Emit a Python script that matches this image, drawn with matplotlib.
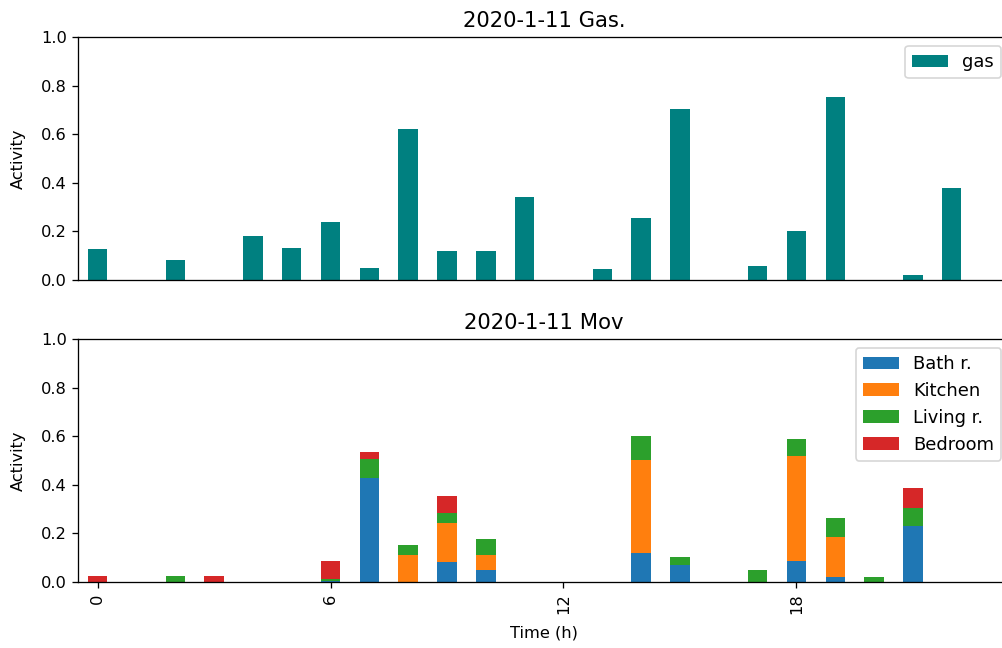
import numpy as np
import matplotlib
matplotlib.use("Agg")
import matplotlib.pyplot as plt

# ── hourly data for 2020-1-11 ──────────────────────────────────────────────
hours = np.arange(24)

gas = [0.128, 0, 0.082, 0, 0.18, 0.132, 0.239, 0.047, 0.622, 0.121, 0.117, 0.34,
       0, 0.045, 0.254, 0.703, 0, 0.058, 0.202, 0.751, 0, 0.019, 0.378, 0]

bath = [0, 0, 0, 0, 0, 0, 0.005, 0.429, 0, 0.081, 0.05, 0,
        0, 0, 0.119, 0.071, 0, 0, 0.088, 0.022, 0, 0.232, 0, 0]
kitchen = [0, 0, 0, 0, 0, 0, 0, 0, 0.112, 0.16, 0.062, 0,
           0, 0, 0.384, 0, 0, 0, 0.43, 0.162, 0, 0, 0, 0]
living = [0, 0, 0.023, 0, 0, 0, 0.007, 0.078, 0.038, 0.043, 0.065, 0,
          0, 0, 0.096, 0.03, 0, 0.051, 0.07, 0.079, 0.022, 0.074, 0, 0]
bedroom = [0.023, 0, 0, 0.023, 0, 0, 0.076, 0.027, 0, 0.069, 0, 0,
           0, 0, 0, 0, 0, 0, 0, 0, 0, 0.079, 0, 0]

rooms = [("Bath r.", bath), ("Kitchen", kitchen), ("Living r.", living), ("Bedroom", bedroom)]
room_colors = ["#1f77b4", "#ff7f0e", "#2ca02c", "#d62728"]

WIDTH = 0.5
DPI = 117

fig, (ax1, ax2) = plt.subplots(2, 1, figsize=(1002 / DPI, 648 / DPI), dpi=DPI, sharex=True)
# right edge runs slightly past the canvas, so the right spine is clipped off
fig.subplots_adjust(left=0.078, right=1.008, top=0.943, bottom=0.102, hspace=0.243)

# gas usage
ax1.bar(hours, gas, width=WIDTH, color="teal", label="gas")
ax1.set_title("2020-1-11 Gas.", fontsize=13)
ax1.set_ylabel("Activity", labelpad=9)
ax1.set_ylim(0, 1)
ax1.legend(loc="upper right", fontsize=11)
ax1.tick_params(axis="x", bottom=False, labelbottom=False)

# movement per room, stacked
bottom = np.zeros(len(hours))
for (name, vals), color in zip(rooms, room_colors):
    vals = np.array(vals)
    ax2.bar(hours, vals, width=WIDTH, bottom=bottom, color=color, label=name)
    bottom += vals
ax2.set_title("2020-1-11 Mov", fontsize=13)
ax2.set_ylabel("Activity", labelpad=9)
ax2.set_xlabel("Time (h)", labelpad=7)
ax2.set_ylim(0, 1)
ax2.legend(loc="upper right", fontsize=11)
ax2.set_xticks([0, 6, 12, 18])
ax2.tick_params(axis="x", labelrotation=90)
ax2.set_xlim(-0.5, 23.5)

for ax in (ax1, ax2):
    ax.set_yticks(np.arange(0, 1.01, 0.2))

fig.savefig("out.png", dpi=DPI)
